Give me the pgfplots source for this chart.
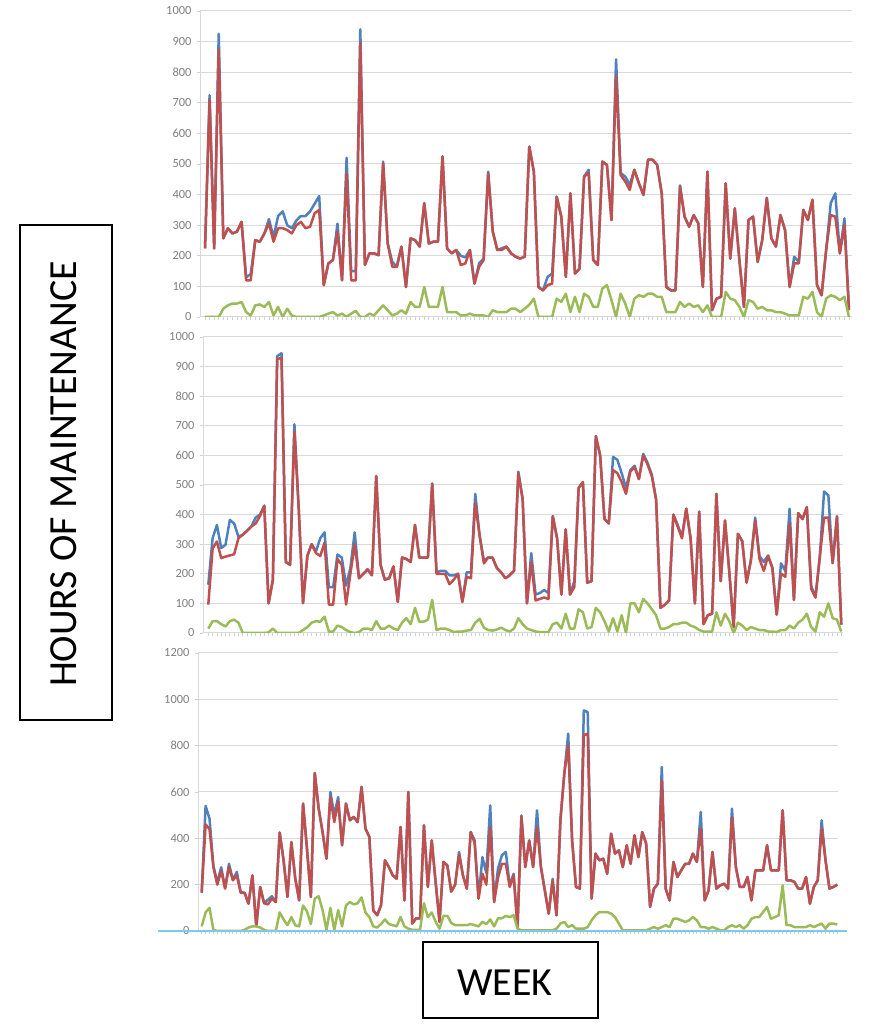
\documentclass[border=0pt]{standalone}
\usepackage{fontspec}
\setmainfont{Carlito}
\usepackage{pgfplots}
\usepackage{pgfplotstable}
\pgfplotsset{compat=1.18}
\definecolor{xblue}{HTML}{4F81BD}
\definecolor{xred}{HTML}{C0504D}
\definecolor{xgreen}{HTML}{9BBB59}
\definecolor{gridc}{HTML}{D9D9D9}
\definecolor{tickc}{HTML}{7F7F7F}
\definecolor{skyb}{RGB}{125,200,235}

\pgfplotstableread{
b r g
224 224 0
725 710 0
224 224 0
925 874 0
257 257 27
290 290 38
273 273 44
279 279 44
311 311 49
130 120 16
140 120 5
251 251 38
246 246 41
273 273 33
320 306 49
260 246 5
330 290 33
345 290 0
300 284 27
290 273 5
315 300 0
330 311 0
330 290 0
345 295 0
370 339 0
395 350 0
104 104 5
175 175 11
186 186 16
305 279 5
120 120 11
520 470 0
150 120 11
150 120 20
940 896 0
170 170 0
208 208 11
208 208 5
202 202 22
508 503 38
240 240 22
180 164 5
164 164 11
230 230 22
98 98 11
257 257 49
251 251 33
230 230 33
372 372 98
240 240 33
246 246 33
246 246 33
525 525 98
224 224 16
208 208 16
219 219 16
200 170 5
195 175 5
219 219 11
109 109 5
175 164 5
190 186 5
475 470 0
279 279 22
219 219 16
225 219 16
230 230 16
208 208 27
197 197 27
191 191 16
197 197 27
557 557 40
475 475 60
98 98 0
87 87 0
131 104 0
142 109 0
393 393 60
328 328 49
131 131 76
404 404 16
142 142 66
158 158 16
459 459 76
481 470 66
186 186 33
170 170 33
508 508 93
497 497 104
317 317 55
842 787 0
470 464 76
459 443 44
432 415 0
481 481 60
437 437 71
399 399 66
514 514 76
514 514 76
497 497 66
404 404 66
98 98 16
87 87 16
87 87 16
430 426 49
328 328 33
295 295 44
333 333 33
306 306 38
98 98 16
475 475 38
22 22 0
60 60 0
66 66 0
437 437 82
191 191 60
355 355 55
186 186 33
33 33 0
317 317 55
328 328 49
180 180 27
251 251 33
390 388 22
257 257 22
230 230 16
333 333 16
284 284 11
98 98 5
197 175 5
180 175 5
350 350 66
317 317 60
383 383 82
104 104 16
71 71 0
219 219 60
372 333 71
404 328 66
208 208 55
322 300 66
22 22 0
}\tA

\pgfplotstableread{
b r g
163 96 15
320 285 40
365 309 40
287 253 30
298 258 22
382 262 40
370 266 45
325 320 35
332 332 0
345 345 0
360 360 0
390 370 0
400 395 0
430 430 0
100 100 2
180 180 15
935 925 0
945 930 0
240 240 0
230 230 0
705 680 0
420 420 0
101 101 10
260 260 20
300 300 35
275 270 40
320 260 38
340 305 55
155 96 5
155 96 5
265 250 25
255 230 20
160 96 10
220 200 3
340 300 0
185 185 3
200 200 15
215 215 15
195 195 10
530 530 40
230 230 15
180 180 15
185 185 25
225 225 15
105 105 10
255 255 35
250 250 50
240 240 30
365 365 85
255 255 38
255 255 38
255 255 45
505 505 112
205 200 10
210 200 15
210 200 15
195 165 10
195 180 3
200 200 5
105 105 5
205 190 8
205 185 10
470 440 35
330 330 48
245 235 18
255 255 10
255 255 8
220 220 12
205 205 18
185 185 10
195 195 5
210 210 15
545 540 50
455 450 30
100 100 15
270 240 10
130 110 5
135 115 3
145 120 3
135 115 3
395 395 30
320 320 35
130 130 15
350 350 65
130 130 15
175 155 15
490 490 80
510 510 70
170 170 15
175 175 20
665 665 85
600 600 70
385 385 40
370 370 5
595 550 50
585 540 5
540 510 60
490 470 0
550 545 100
565 560 100
520 520 70
605 600 115
575 570 100
535 530 80
450 450 60
85 85 15
95 95 15
110 110 20
400 400 30
365 360 30
325 320 35
420 420 35
320 320 25
100 100 20
410 410 10
30 30 5
60 60 5
65 65 5
470 470 70
175 175 25
380 380 65
205 205 40
20 20 0
335 335 35
310 310 25
170 170 10
245 245 20
390 380 15
260 250 10
240 210 10
262 260 5
220 220 5
62 62 3
235 200 10
210 190 10
420 370 25
112 112 15
405 405 35
385 385 45
425 425 65
160 150 20
120 120 5
255 255 70
478 390 55
465 390 100
236 236 50
395 393 45
28 28 5
}\tB

\pgfplotstableread{
b r g
170 165 20
540 460 80
485 440 100
280 276 5
210 200 0
275 260 0
185 183 0
290 276 0
220 219 0
255 240 0
168 165 0
165 165 5
118 118 15
240 240 20
20 20 20
190 190 15
120 120 5
135 115 0
150 140 0
125 125 0
425 425 80
305 305 50
147 147 25
384 384 60
226 226 25
132 132 20
550 550 110
355 355 85
147 147 30
682 682 140
528 528 150
427 427 90
312 312 5
600 578 100
500 470 5
578 560 90
370 370 20
550 550 110
478 478 125
492 492 115
470 470 120
622 622 145
442 442 80
406 406 60
89 89 20
68 68 15
111 111 30
305 305 50
276 276 30
240 240 25
226 226 20
449 449 60
132 132 20
600 600 10
32 32 5
55 55 5
55 55 5
456 456 120
190 190 60
391 391 80
210 210 40
39 39 10
298 298 65
283 283 65
170 170 35
200 200 25
341 330 25
240 240 25
183 183 25
427 427 30
391 380 25
140 140 20
319 247 40
250 200 30
542 449 50
125 125 20
270 230 55
327 290 55
341 290 65
197 190 60
247 240 68
17 17 10
499 492 3
276 276 3
391 391 3
276 276 3
521 449 3
276 276 3
175 175 3
75 75 3
225 219 3
68 68 10
478 478 32
679 679 39
852 801 17
391 391 25
190 190 10
183 183 10
952 845 10
945 852 17
140 140 46
334 334 68
305 305 82
312 312 82
247 247 82
420 420 75
334 334 60
348 348 32
276 276 3
370 370 3
290 290 3
413 413 3
319 319 3
427 427 3
377 377 3
104 104 10
183 183 17
204 204 10
708 650 17
183 183 25
132 132 17
298 298 53
233 233 53
262 262 46
290 290 39
290 290 46
334 334 60
298 298 46
514 442 17
132 132 17
175 175 10
341 341 17
183 183 10
197 197 3
204 204 3
183 183 17
528 492 25
276 276 17
190 190 25
190 190 10
233 233 25
132 132 53
262 262 60
262 262 60
262 262 82
370 370 104
262 262 53
262 262 60
262 262 68
521 521 197
219 219 25
219 219 25
212 212 17
183 183 17
183 183 17
233 233 17
118 118 25
190 190 17
219 219 25
478 442 32
305 305 10
183 183 32
190 190 32
200 200 28
}\tC

\pgfplotsset{
  panel/.style={
    scale only axis,
    anchor=south west,
    axis x line*=bottom,
    axis y line*=left,
    axis line style={-, draw=gridc, line width=1bp},
    ymajorgrids,
    grid style={draw=gridc, line width=1bp},
    xtick=data,
    xticklabels={},
    tick style={draw=gridc!80!skyb, line width=0.8bp},
    tick align=outside,
    major tick length=3.5bp,
    tick label style={font=\fontsize{12.5}{13}\selectfont, text=tickc},
    yticklabel style={xshift=-1.5bp},
    /pgf/number format/assume math mode=true,
    /pgf/number format/1000 sep={},
    ymin=0,
  },
  sb/.style={xblue, line width=2.5bp, mark=none, line join=round},
  sr/.style={xred, line width=2.5bp, mark=none, line join=round},
  sg/.style={xgreen, line width=2.5bp, mark=none, line join=round},
}

\begin{document}
\begin{tikzpicture}
\path[use as bounding box] (0bp,0bp) rectangle (881bp,1024bp);

\begin{axis}[panel, at={(200bp,707bp)}, width=652bp, height=306bp,
  xmin=-0.1, xmax=142.66, ymax=1000, ytick={0,100,...,1000}]
\addplot[sb] table[x expr=\coordindex+1, y=b] {\tA};
\addplot[sr] table[x expr=\coordindex+1, y=r] {\tA};
\addplot[sg] table[x expr=\coordindex+1, y=g] {\tA};
\end{axis}

\begin{axis}[panel, at={(203bp,391bp)}, width=640bp, height=296bp,
  xmin=-0.23, xmax=148.4, ymax=1000, ytick={0,100,...,1000}]
\addplot[sb] table[x expr=\coordindex+1, y=b] {\tB};
\addplot[sr] table[x expr=\coordindex+1, y=r] {\tB};
\addplot[sg] table[x expr=\coordindex+1, y=g] {\tB};
\end{axis}

\begin{axis}[panel, at={(198bp,93bp)}, width=640bp, height=278bp,
  xmin=0.05, xmax=164.2, ymax=1200, ytick={0,200,...,1200}]
\addplot[sb] table[x expr=\coordindex+1, y=b] {\tC};
\addplot[sr] table[x expr=\coordindex+1, y=r] {\tC};
\addplot[sg] table[x expr=\coordindex+1, y=g] {\tC};
\end{axis}

\draw[skyb, line width=1.6bp] (158bp,93bp) -- (847bp,93bp);

\draw[line width=1.5bp] (20bp,304bp) rectangle (112bp,799bp);
\node[rotate=90, font=\fontsize{40}{40}\selectfont, inner sep=0pt] at (63.5bp,550bp) {HOURS OF MAINTENANCE};

\draw[line width=1.5bp] (423bp,6bp) rectangle (598bp,82bp);
\node[font=\fontsize{40}{40}\selectfont, inner sep=0pt] at (505bp,41bp) {WEEK};
\end{tikzpicture}
\end{document}
